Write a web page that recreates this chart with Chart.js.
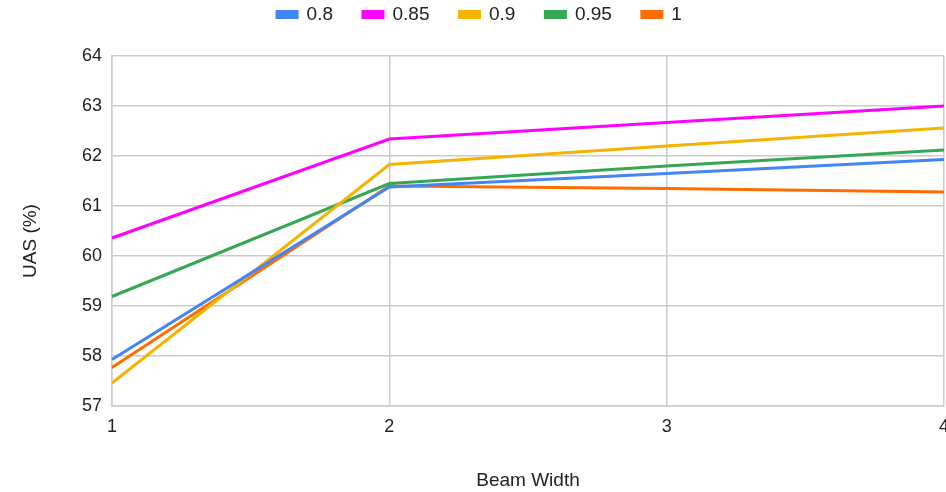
<!DOCTYPE html>
<html>
<head>
<meta charset="utf-8">
<script src="https://cdn.jsdelivr.net/npm/chart.js@4"></script>
<style>
  html, body { margin: 0; padding: 0; background: #fff; overflow: hidden; }
  #wrap { width: 959px; height: 492px; position: relative; }
</style>
</head>
<body>
<div id="wrap"><canvas id="c"></canvas></div>
<script>
const categories = ['1', '2', '3', '4'];
const seriesNames = ['0.8', '0.85', '0.9', '0.95', '1'];
const s080 = [57.93, 61.38, 61.65, 61.93];
const s085 = [60.36, 62.34, 62.67, 63.0];
const s090 = [57.46, 61.83, 62.2, 62.56];
const s095 = [59.19, 61.45, 61.8, 62.12];
const s100 = [57.77, 61.4, 61.35, 61.28];
const yTicks = [57, 58, 59, 60, 61, 62, 63, 64];

const colors = ['#4285F4', '#FF00FF', '#F4B400', '#34A853', '#FF6D01'];
const values = [s080, s085, s090, s095, s100];

const datasets = seriesNames.map((n, i) => ({
  label: n,
  data: values[i],
  borderColor: colors[i],
  backgroundColor: colors[i],
  borderWidth: 3,
  pointRadius: 0,
  tension: 0,
  fill: false
}));

const fam = 'Arial, "Liberation Sans", sans-serif';
const tickFont = { family: fam, size: 18 };
const titleFont = { family: fam, size: 19 };

const tweak = {
  id: 'tweak',
  afterLayout(chart) {
    if (chart.legend) {
      chart.legend.top -= 22;
      chart.legend.bottom -= 22;
    }
    const ys = chart.scales.y;
    if (ys && !ys._titleWrapped) {
      const orig = ys.drawTitle;
      ys.drawTitle = function () {
        const ctx = this.ctx;
        ctx.save();
        ctx.translate(0, 10);
        orig.apply(this, arguments);
        ctx.restore();
      };
      ys._titleWrapped = true;
    }
  }
};

new Chart(document.getElementById('c'), {
  type: 'line',
  data: { labels: categories, datasets },
  plugins: [tweak],
  options: {
    responsive: true,
    maintainAspectRatio: false,
    animation: false,
    layout: { padding: { top: -3, left: 0, right: 0, bottom: 0 } },
    plugins: {
      legend: {
        position: 'top',
        labels: {
          font: titleFont,
          color: '#222',
          boxWidth: 20,
          boxHeight: 6,
          padding: 30
        }
      },
      tooltip: { enabled: false }
    },
    scales: {
      x: {
        offset: false,
        grid: { color: '#cccccc', drawTicks: false, lineWidth: 1.5 },
        border: { color: '#cccccc', width: 1.5 },
        ticks: { font: tickFont, color: '#222', padding: 10, maxRotation: 0 },
        title: { display: true, text: 'Beam Width', font: titleFont, color: '#222', padding: { top: 4, bottom: 0 } },
        afterFit: s => { s.height = 86; }
      },
      y: {
        min: 57, max: 64,
        grid: { color: '#cccccc', drawTicks: false, lineWidth: 1.5 },
        border: { color: '#cccccc', width: 1.5 },
        afterBuildTicks: s => { s.ticks = yTicks.map(v => ({ value: v })); },
        ticks: { font: tickFont, color: '#222', padding: 10 },
        title: { display: true, text: 'UAS (%)', font: titleFont, color: '#222', padding: { top: 19, bottom: 4 } },
        afterFit: s => { s.width = 112; }
      }
    }
  }
});
</script>
</body>
</html>
